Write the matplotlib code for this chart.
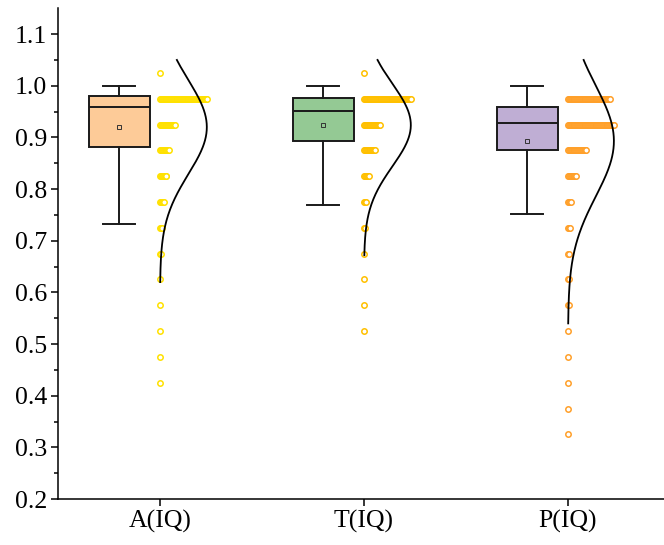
import numpy as np
import matplotlib
matplotlib.use("Agg")
import matplotlib.pyplot as plt

plt.rcParams['font.family'] = ['Liberation Serif', 'DejaVu Serif']

# Categories and box statistics
groups = ["A(IQ)", "T(IQ)", "P(IQ)"]
whislo = [0.732, 0.769, 0.751]
q1 = [0.881, 0.893, 0.875]
med = [0.958, 0.952, 0.928]
q3 = [0.981, 0.976, 0.958]
whishi = [1.0, 1.0, 1.0]
means = [0.920, 0.924, 0.893]

# Dot histogram: bin centres (0.05 wide) and counts per group
binsA = [0.425, 0.475, 0.525, 0.575, 0.625, 0.675, 0.725, 0.775, 0.825, 0.875, 0.925, 0.975, 1.025]
countsA = [1, 1, 1, 1, 1, 2, 3, 5, 8, 11, 17, 52, 1]
binsT = [0.525, 0.575, 0.625, 0.675, 0.725, 0.775, 0.825, 0.875, 0.925, 0.975, 1.025]
countsT = [1, 1, 1, 1, 2, 3, 6, 13, 18, 52, 1]
binsP = [0.325, 0.375, 0.425, 0.475, 0.525, 0.575, 0.625, 0.675, 0.725, 0.775, 0.825, 0.875, 0.925, 0.975]
countsP = [1, 1, 1, 1, 1, 2, 2, 2, 3, 4, 10, 21, 51, 47]

# Normal distribution curve parameters (sd, lower end)
curveSd = [0.091, 0.080, 0.107]
curveLow = [0.62, 0.672, 0.54]
curveHigh = 1.05

boxColors = ["#FDCB98", "#94C994", "#BFAED4"]
dotColors = ["#FFE100", "#FFC000", "#FFA02A"]

fig = plt.figure(figsize=(6.64, 5.45), dpi=100)
ax = fig.add_axes([58/664, 46/545, 1 - 58/664, 490.7/545])

positions = np.arange(1, 4)
boxOffset = -0.2
spacing = 0.0045

stats = []
for i in range(3):
    stats.append(dict(med=med[i], q1=q1[i], q3=q3[i], whislo=whislo[i], whishi=whishi[i], mean=means[i], fliers=[]))

bp = ax.bxp(stats, positions=positions + boxOffset, widths=0.3, patch_artist=True, showmeans=True,
            showfliers=False, capwidths=0.155,
            boxprops=dict(linewidth=1.4, edgecolor="#1a1a1a"),
            medianprops=dict(color="#1a1a1a", linewidth=1.4),
            whiskerprops=dict(color="#1a1a1a", linewidth=1.4),
            capprops=dict(color="#1a1a1a", linewidth=1.4),
            meanprops=dict(marker="s", markersize=3.5, markeredgewidth=0.7, markeredgecolor="#333333"))
for i, b in enumerate(bp["boxes"]):
    b.set_facecolor(boxColors[i])
for i, m in enumerate(bp["means"]):
    m.set_markerfacecolor(boxColors[i])

# dot plots
allBins = [binsA, binsT, binsP]
allCounts = [countsA, countsT, countsP]
for g in range(3):
    for b, c in zip(allBins[g], allCounts[g]):
        xs = positions[g] + np.arange(c) * spacing
        for x in xs:
            ln, = ax.plot(x, b, marker="o", markersize=3.9, markerfacecolor="white",
                          markeredgecolor=dotColors[g], markeredgewidth=1.1, linestyle="none", zorder=3)
            ln.set_snap(False)

# distribution curves
for g in range(3):
    peak = (max(allCounts[g]) - 1) * spacing
    ys = np.linspace(curveLow[g], curveHigh, 200)
    xs = positions[g] + peak * np.exp(-(ys - means[g])**2 / (2 * curveSd[g]**2))
    ax.plot(xs, ys, color="black", linewidth=1.3, zorder=4)

ax.set_xlim(0.5, 0.5 + (664 - 58) / 204)
ax.set_ylim(0.2, 1.15)
ax.set_xticks(positions)
ax.set_xticklabels(groups)
ax.set_yticks(np.arange(0.2, 1.11, 0.1))
ax.set_yticks(np.arange(0.25, 1.15, 0.1), minor=True)
ax.yaxis.set_major_formatter(matplotlib.ticker.FormatStrFormatter("%.1f"))

for s in ["top", "right"]:
    ax.spines[s].set_visible(False)
for s in ["left", "bottom"]:
    ax.spines[s].set_linewidth(1.1)
ax.tick_params(axis="both", which="major", direction="out", length=5, width=1.1, labelsize=18.5, pad=3)
ax.tick_params(axis="y", which="minor", direction="out", length=2.8, width=1.1)
ax.tick_params(axis="x", which="minor", bottom=False)

fig.savefig("out.png", dpi=100)
